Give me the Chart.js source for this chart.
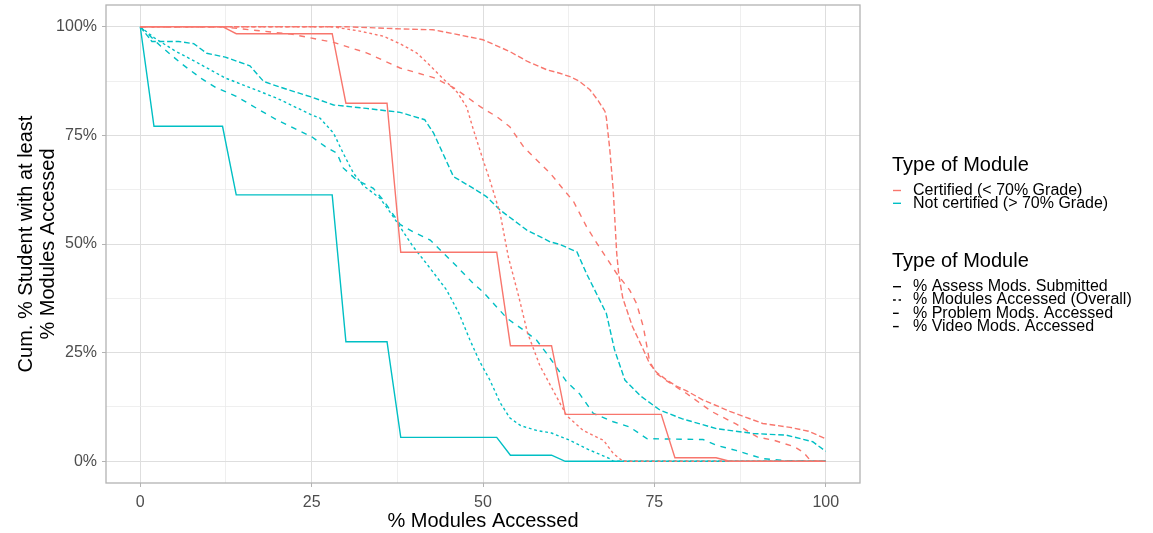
<!DOCTYPE html>
<html>
<head>
<meta charset="utf-8">
<title>Cumulative % of students by modules accessed</title>
<script src="https://cdn.jsdelivr.net/npm/chart.js"></script>
<style>
    html, body { margin: 0; padding: 0; background: #fff; }
    #wrap { position: relative; width: 1153px; height: 533px; }
</style>
</head>
<body>
<div id="wrap"><canvas id="myChart"></canvas></div>

<script>
    // tick positions (major get labels, minor only grid lines)
    const majorTicks = [0, 25, 50, 75, 100];
    const minorTicks = [12.5, 37.5, 62.5, 87.5];

    const yTitle = ['Cum. % Student with at least', '% Modules Accessed'];
    const xTitle = '% Modules Accessed';

    const groups = ['Certified (< 70% Grade)', 'Not certified (> 70% Grade)'];
    const moduleTypes = ['% Assess Mods. Submitted', '% Modules Accessed (Overall)', '% Problem Mods. Accessed', '% Video Mods. Accessed'];
    const legendTitle = 'Type of Module';

    // [% modules accessed, cum. % students]
    const certAssess = [[0,100],[12,100],[14,98.4],[28,98.4],[30,82.4],[36,82.4],[38,48.1],[52,48.1],[54,26.6],[60,26.6],[62,10.8],[76,10.8],[78,0.8],[84,0.8],[86,0],[100,0]];
    const certOverall = [[0,100],[28,100],[32,99],[35.5,97.8],[38,96],[40.3,94],[42,91.5],[44.2,88],[46.2,85],[47.6,81.6],[48.6,76.3],[50,69.4],[51,64.7],[52.5,57],[53.7,47],[55.2,38],[56.5,29.5],[58.3,22],[60,17],[62.2,10.5],[64.6,7.1],[67.6,4.8],[69,1.8],[70.4,0],[100,0]];
    const certProblem = [[0,100],[30,100],[38,99.5],[42.7,99.3],[46,98.3],[50,97],[53.9,94.3],[56.5,92],[59.3,90.1],[61.2,89.3],[62.7,88.5],[64,87.5],[65.6,85.5],[66.8,83],[67.8,80.5],[68,79],[68.5,71.7],[69,62.4],[69.5,48],[69.8,43],[70.4,37.5],[71.8,31],[73.3,26],[74.3,22.5],[75.3,20.5],[76.8,18.7],[78.2,17.3],[79.7,16.2],[82.1,14.1],[86,11.5],[90.8,8.7],[94.8,7.8],[97.5,6.9],[100,5.2]];
    const certVideo = [[0,100],[12,100],[16,99.3],[22,98.3],[28.2,96.4],[33,94],[37.9,90.5],[42.8,88.3],[45.7,86],[47.5,84],[49.6,81.6],[52,79.3],[53.9,77],[55.9,72.4],[58.3,68.6],[59.8,66.3],[61.5,63],[63.2,59.8],[65.1,54],[66.6,50.2],[69.5,43.2],[71.4,39.4],[72.4,36.3],[73.4,30.9],[74.3,23],[75.3,20.2],[76.8,18.5],[79.7,15.6],[83.3,11.5],[86.9,8.6],[90,5.6],[92.5,4.8],[95.5,3.3],[96.8,2],[97.7,0.3],[98,0],[100,0]];

    const notAssess = [[0,100],[2,77.1],[12,77.1],[14,61.3],[28,61.3],[30,27.5],[36,27.5],[38,5.5],[52,5.5],[54,1.4],[60,1.4],[62,0],[100,0]];
    const notOverall = [[0,100],[2,97.5],[5,94.5],[8,92],[12.4,88.2],[16,86],[20,83.5],[25,79.7],[26.2,79],[28.2,75.5],[29.6,70.9],[31.1,66.3],[32.5,63.5],[35,60.5],[36.9,56.3],[39.8,49.4],[42,45],[44.7,39.4],[46.5,34],[48.1,27.9],[49.5,23],[51,18.7],[52.5,13.5],[53.9,10],[55.5,8.2],[57.8,7.1],[60,6.5],[62.7,4.8],[65.1,2.9],[68.5,0.6],[69,0],[100,0]];
    const notProblem = [[0,100],[1.7,96.6],[5.6,96.6],[7.8,96.1],[9.7,93.9],[12.4,93],[16,91],[18,87.4],[20.2,86.2],[25,83.8],[28.2,82],[33,81.2],[37.9,80.3],[41.5,78.6],[42.8,75.5],[45.7,65.5],[48.6,62.8],[50.5,60.9],[52.5,57.8],[56.4,53.2],[59.8,50.5],[61.2,49.9],[63.7,48.2],[65.1,43.2],[68,34],[69.2,25.6],[70.7,18.7],[73,15],[75.8,11.8],[79,9.8],[84.1,7.5],[89.4,6.4],[94.3,6],[98.1,4.5],[100,2.3]];
    const notVideo = [[0,100],[3,95.5],[6,91.5],[9,88],[11,86],[14,84],[17,81.2],[20,78.5],[25,74.7],[27,72.4],[28.7,70.9],[29.6,67.5],[31.6,64.7],[34,62.8],[35.5,60],[37.9,54.5],[39.8,52.8],[42.3,50.9],[46.2,44.8],[48.6,40.9],[50,39],[53.5,32.9],[55.9,30.2],[57.8,27.9],[59.3,24.8],[62.2,18.3],[64.1,15.5],[66.1,11],[69,9.1],[71.4,7.9],[73.9,5.2],[82.1,5],[84,3.7],[86.9,2.5],[90.8,0.6],[94.8,0.1],[100,0]];

    const colors = ['#F8766D', '#00BFC4'];
    // ggplot linetypes: solid, "22", "42", "44"
    const dashes = [[], [2.8, 2.8], [5.7, 2.8], [5.7, 5.7]];

    const seriesByGroup = [
        [certAssess, certOverall, certProblem, certVideo],
        [notAssess, notOverall, notProblem, notVideo]
    ];

    let datasets = [];
    seriesByGroup.forEach((list, g) => {
        list.forEach((pts, t) => {
            datasets.push({
                label: groups[g] + ' - ' + moduleTypes[t],
                data: pts.map(p => ({x: p[0], y: p[1]})),
                borderColor: colors[g],
                borderWidth: 1.4,
                borderDash: dashes[t],
                pointRadius: 0,
                tension: 0,
                fill: false
            });
        });
    });

    const allTicks = majorTicks.concat(minorTicks).sort((a, b) => a - b);
    const isMajor = c => c.tick && majorTicks.includes(c.tick.value);

    function gridOpts() {
        return {
            color: c => isMajor(c) ? '#DEDEDE' : '#EBEBEB',
            lineWidth: c => isMajor(c) ? 1 : 0.8,
            tickColor: c => isMajor(c) ? '#B3B3B3' : 'rgba(0,0,0,0)',
            tickWidth: 1,
            tickLength: 4,
            drawTicks: true
        };
    }

    // panel border + the two legends drawn beside the plot
    const panelAndLegend = {
        id: 'panelAndLegend',
        afterDraw(chart) {
            const ctx = chart.ctx;
            const a = chart.chartArea;
            ctx.save();
            ctx.strokeStyle = '#B3B3B3';
            ctx.lineWidth = 1.3;
            ctx.strokeRect(a.left, a.top, a.right - a.left, a.bottom - a.top);

            const lx = a.right + 32;
            ctx.fillStyle = '#000';
            ctx.textBaseline = 'middle';
            ctx.textAlign = 'left';

            ctx.font = "20px 'Liberation Sans', Arial, sans-serif";
            ctx.fillText(legendTitle, lx, 165);
            ctx.fillText(legendTitle, lx, 261);

            ctx.font = "16px 'Liberation Sans', Arial, sans-serif";
            ctx.lineWidth = 1.4;
            groups.forEach((name, i) => {
                let y = 190.5 + i * 12.8;
                ctx.setLineDash([]);
                ctx.strokeStyle = colors[i];
                ctx.beginPath();
                ctx.moveTo(lx + 1, y);
                ctx.lineTo(lx + 9, y);
                ctx.stroke();
                ctx.fillText(name, lx + 21, y);
            });
            moduleTypes.forEach((name, i) => {
                let y = 286.7 + i * 13.3;
                ctx.setLineDash(dashes[i]);
                ctx.strokeStyle = '#000';
                ctx.beginPath();
                ctx.moveTo(lx + 1, y);
                ctx.lineTo(lx + 9, y);
                ctx.stroke();
                ctx.fillText(name, lx + 21, y);
            });
            ctx.restore();
        }
    };

    Chart.defaults.font.family = "'Liberation Sans', Arial, sans-serif";

    var ctx = document.getElementById('myChart').getContext('2d');
    let myChart = new Chart(ctx, {
        type: 'line',
        data: { datasets: datasets },
        options: {
            responsive: true,
            maintainAspectRatio: false,
            animation: false,
            layout: { padding: { left: 0, right: 293, top: 5, bottom: 0 } },
            plugins: {
                legend: { display: false },
                tooltip: { enabled: false }
            },
            scales: {
                x: {
                    type: 'linear',
                    min: -5,
                    max: 105,
                    afterBuildTicks: s => { s.ticks = allTicks.map(v => ({value: v})); },
                    afterFit: s => { s.height = 50; s.paddingLeft = 0; s.paddingRight = 0; },
                    grid: gridOpts(),
                    border: { display: false },
                    ticks: {
                        autoSkip: false, maxRotation: 0, minRotation: 0,
                        color: '#4D4D4D', font: { size: 16 }, padding: 6,
                        callback: v => majorTicks.includes(v) ? String(v) : ''
                    },
                    title: {
                        display: true, text: xTitle, color: '#000',
                        font: { size: 20, lineHeight: 1.1 },
                        padding: { top: 0, bottom: 1 }
                    }
                },
                y: {
                    type: 'linear',
                    min: -5,
                    max: 105,
                    afterBuildTicks: s => { s.ticks = allTicks.map(v => ({value: v})); },
                    afterFit: s => { s.width = 106; s.paddingTop = 0; s.paddingBottom = 0; },
                    grid: gridOpts(),
                    border: { display: false },
                    ticks: {
                        autoSkip: false,
                        color: '#4D4D4D', font: { size: 16 }, padding: 5,
                        callback: v => majorTicks.includes(v) ? v + '%' : ''
                    },
                    title: {
                        display: true, text: yTitle, color: '#000',
                        font: { size: 20, lineHeight: 1.1 },
                        padding: { top: 15, bottom: 0 }
                    }
                }
            }
        },
        plugins: [panelAndLegend]
    });
</script>
</body>
</html>
